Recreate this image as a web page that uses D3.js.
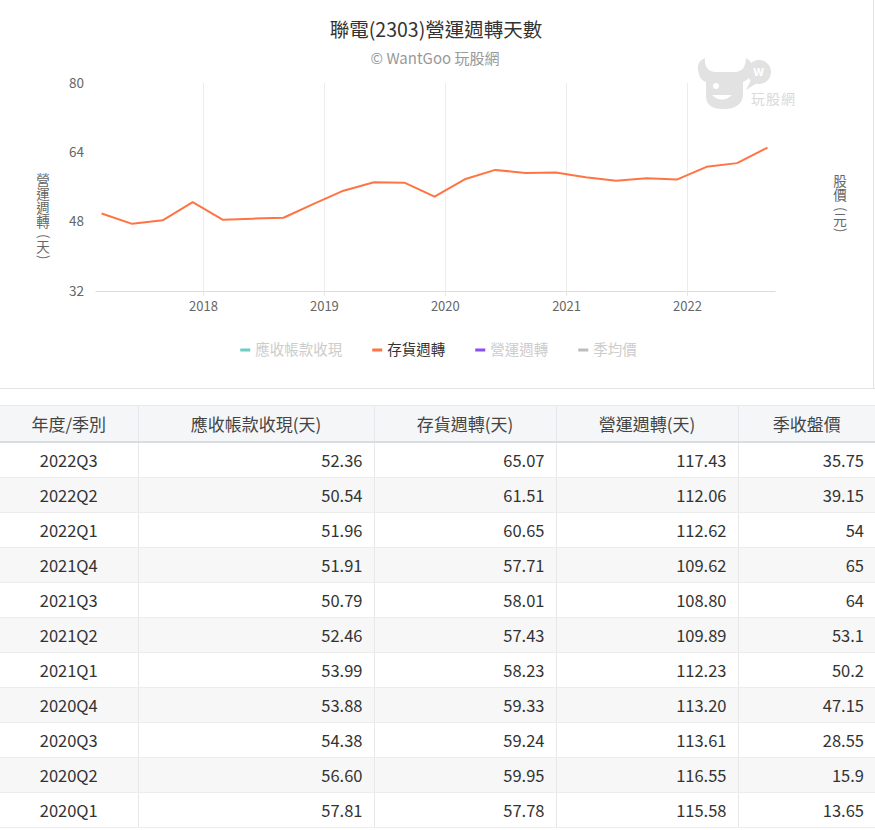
<!DOCTYPE html>
<html>
<head>
<meta charset="utf-8">
<script src="https://cdn.jsdelivr.net/npm/d3@7/dist/d3.min.js"></script>
<style>
  html, body { margin: 0; padding: 0; background: #fff; width: 875px; height: 830px; overflow: hidden; }
  body { font-family: "Noto Sans CJK TC", "Noto Sans", sans-serif; position: relative; }
  #chart { position: absolute; left: 0; top: 0; }
  #tbl { position: absolute; left: 0; top: 405px; }
  table { border-collapse: collapse; table-layout: fixed; width: 875px; font-size: 16.5px; color: #333; }
  th { height: 35px; background: #f5f6f8; font-weight: normal; font-size: 17px; color: #444; border-bottom: 2px solid #d9dce1; border-top: 1px solid #e6e8eb; border-left: 1px solid #e6e8eb; text-align: center; padding: 0; }
  td { height: 34px; border-bottom: 1px solid #ececec; border-left: 1px solid #e8e8e8; padding: 0 11px; text-align: right; }
  td:first-child, th:first-child { border-left: none; text-align: center; }
  tr.alt td { background: #f7f7f7; }
</style>
</head>
<body>
<svg id="chart" width="875" height="390"></svg>
<div id="tbl"></div>
<script>
// ---------- data ----------
const chartTitle = "聯電(2303)營運週轉天數";
const chartSubtitle = "© WantGoo 玩股網";
const quarters = ["2017Q1","2017Q2","2017Q3","2017Q4","2018Q1","2018Q2","2018Q3","2018Q4",
  "2019Q1","2019Q2","2019Q3","2019Q4","2020Q1","2020Q2","2020Q3","2020Q4",
  "2021Q1","2021Q2","2021Q3","2021Q4","2022Q1","2022Q2","2022Q3"];
const inventoryDays = [49.9, 47.5, 48.3, 52.5, 48.45, 48.7, 48.9, 52.1,
  55.15, 57.08, 57.0, 53.76, 57.78, 59.95, 59.24, 59.33,
  58.23, 57.43, 58.01, 57.71, 60.65, 61.51, 65.07];
const yTicks = [32, 48, 64, 80];
const xTickYears = [2018, 2019, 2020, 2021, 2022];
const legendNames = ["應收帳款收現", "存貨週轉", "營運週轉", "季均價"];
const legendColors = ["#6ccdc6", "#ff7443", "#8c4ef2", "#bdbdbd"];
const legendVisible = [false, true, false, false];
const yAxisTitle = "營運週轉 (天)";
const y2AxisTitle = "股價 (元)";

const tableHeaders = ["年度/季別", "應收帳款收現(天)", "存貨週轉(天)", "營運週轉(天)", "季收盤價"];
const tableQuarters = ["2022Q3","2022Q2","2022Q1","2021Q4","2021Q3","2021Q2","2021Q1","2020Q4","2020Q3","2020Q2","2020Q1"];
const receivableDays = ["52.36","50.54","51.96","51.91","50.79","52.46","53.99","53.88","54.38","56.60","57.81"];
const tableInventory = ["65.07","61.51","60.65","57.71","58.01","57.43","58.23","59.33","59.24","59.95","57.78"];
const operatingDays = ["117.43","112.06","112.62","109.62","108.80","109.89","112.23","113.20","113.61","116.55","115.58"];
const closePrice = ["35.75","39.15","54","65","64","53.1","50.2","47.15","28.55","15.9","13.65"];

// ---------- chart ----------
const svg = d3.select("#chart");
const font = '"Noto Sans CJK TC", "Noto Sans", sans-serif';
const plot = { left: 95, right: 775, top: 83, bottom: 291 };

const qDate = q => new Date(Date.UTC(+q.slice(0, 4), +q.slice(5) * 3 - 1, 1));
const x0 = d3.scaleUtc()
  .domain([new Date(Date.UTC(2018, 0, 1)), new Date(Date.UTC(2022, 0, 1))])
  .range([203, 687]);
const x = d3.scaleUtc().domain([x0.invert(plot.left), x0.invert(plot.right)]).range([plot.left, plot.right]);
const y = d3.scaleLinear().domain([32, 80]).range([plot.bottom, plot.top]);

// container borders
svg.append("line").attr("x1", 0).attr("x2", 875).attr("y1", 388.5).attr("y2", 388.5).attr("stroke", "#e3e3e3");
svg.append("line").attr("x1", 873.5).attr("x2", 873.5).attr("y1", 0).attr("y2", 389).attr("stroke", "#e3e3e3");

// title
svg.append("text").attr("x", 436).attr("y", 37).attr("text-anchor", "middle")
  .attr("font-family", font).attr("font-size", 19.5).attr("fill", "#333").text(chartTitle);
svg.append("text").attr("x", 435).attr("y", 64).attr("text-anchor", "middle")
  .attr("font-family", font).attr("font-size", 15).attr("fill", "#999").text(chartSubtitle);

// watermark
const wm = svg.append("g").attr("fill", "#e2e2e2");
wm.append("path").attr("d", "M699,74 Q695,62 705,58 Q704,70 714,72 L737,72 Q746,70 746,58 Q755,63 751,75 Q748,80 743,82 L743,96 Q741,109 723,109 Q706,109 706,96 L706,82 Q700,80 699,74 Z");
wm.append("circle").attr("cx", 759).attr("cy", 72).attr("r", 12);
wm.append("path").attr("d", "M751,80 L746,90 L757,83 Z");
wm.append("circle").attr("cx", 716).attr("cy", 86).attr("r", 3).attr("fill", "#fff");
wm.append("path").attr("d", "M712,95 Q722,104 732,95 Z").attr("fill", "#fff");
wm.append("text").attr("x", 753).attr("y", 76).attr("font-family", font).attr("font-size", 13)
  .attr("font-weight", "bold").attr("fill", "#fff").text("w");
wm.append("text").attr("x", 751).attr("y", 104).attr("font-family", font).attr("font-size", 14)
  .attr("fill", "#d9d9d9").attr("letter-spacing", 1).text("玩股網");

// vertical grid lines at year ticks
const yearDates = xTickYears.map(yr => new Date(Date.UTC(yr, 0, 1)));
svg.append("g").selectAll("line").data(yearDates).join("line")
  .attr("x1", d => Math.round(x(d)) + 0.5).attr("x2", d => Math.round(x(d)) + 0.5)
  .attr("y1", plot.top).attr("y2", plot.bottom)
  .attr("stroke", "#ececec").attr("stroke-width", 1);

// x axis
const xAxis = d3.axisBottom(x).tickValues(yearDates).tickFormat(d3.utcFormat("%Y")).tickSize(5).tickSizeOuter(0);
const gx = svg.append("g").attr("transform", `translate(0,${plot.bottom})`).call(xAxis);
gx.select(".domain").attr("stroke", "#dcdcdc");
gx.selectAll(".tick line").attr("stroke", "#e6e6e6");
gx.selectAll(".tick text").attr("font-family", font).attr("font-size", 13).attr("fill", "#666").attr("dy", "0.95em").attr("y", 8);

// y axis (labels only)
const yAxis = d3.axisLeft(y).tickValues(yTicks).tickSize(0).tickPadding(0);
const gy = svg.append("g").attr("transform", `translate(84,0)`).call(yAxis);
gy.select(".domain").remove();
gy.selectAll(".tick text").attr("font-family", font).attr("font-size", 13.5).attr("fill", "#666");

// axis titles: one text element, glyphs placed vertically (CJK upright, brackets turned)
function verticalTitle(str, cx, top) {
  const fs = 13.5;
  const xs = [], ys = [], rs = [];
  let chars = "";
  let yy = top;
  for (const ch of str) {
    if (ch === " ") { yy += 4; continue; }
    chars += ch;
    if (ch === "(" || ch === ")") {
      xs.push(cx - 0.3 * fs); ys.push(yy + 1); rs.push(90);
      yy += 7;
    } else {
      xs.push(cx - fs / 2); ys.push(yy + 11.5); rs.push(0);
      yy += 14;
    }
  }
  svg.append("text").attr("font-family", font).attr("font-size", fs).attr("fill", "#666")
    .attr("x", xs.join(" ")).attr("y", ys.join(" ")).attr("rotate", rs.join(" "))
    .text(chars);
}
verticalTitle(yAxisTitle, 43, 173);
verticalTitle(y2AxisTitle, 840, 174);

// line
const pts = quarters.map((q, i) => ({ d: qDate(q), v: inventoryDays[i] }));
svg.append("path").datum(pts)
  .attr("fill", "none").attr("stroke", "#ff7443").attr("stroke-width", 2).attr("stroke-linejoin", "round")
  .attr("d", d3.line().x(p => x(p.d)).y(p => y(p.v)));

// legend
const lg = svg.append("g");
let cx = 0;
legendNames.forEach((name, i) => {
  const g = lg.append("g");
  g.append("rect").attr("x", 0).attr("y", -1.5).attr("width", 10).attr("height", 3).attr("fill", legendColors[i]);
  const t = g.append("text").attr("x", 15).attr("y", 0).attr("dy", "0.35em")
    .attr("font-family", font).attr("font-size", 14.5)
    .attr("fill", legendVisible[i] ? "#333" : "#cccccc").text(name);
  const w = 15 + t.node().getComputedTextLength();
  g.attr("transform", `translate(${cx},0)`);
  cx += w + 30;
});
const totalW = cx - 30;
lg.attr("transform", `translate(${438.5 - totalW / 2},350)`);

// ---------- table ----------
const colWidths = [138, 236, 182, 182, 137];
const table = d3.select("#tbl").append("table");
table.append("colgroup").selectAll("col").data(colWidths).join("col").style("width", d => d + "px");
table.append("thead").append("tr").selectAll("th").data(tableHeaders).join("th").text(d => d);
const rows = tableQuarters.map((q, i) => [q, receivableDays[i], tableInventory[i], operatingDays[i], closePrice[i]]);
table.append("tbody").selectAll("tr").data(rows).join("tr")
  .attr("class", (d, i) => i % 2 === 1 ? "alt" : null)
  .selectAll("td").data(d => d).join("td").text(d => d);
</script>
</body>
</html>
